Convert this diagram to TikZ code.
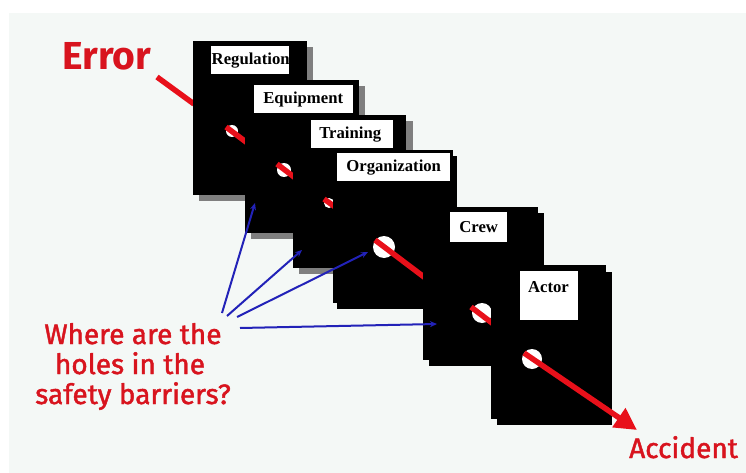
\documentclass[tikz,border=0pt]{standalone}
\usepackage{fontspec}
\usetikzlibrary{arrows.meta}
\newfontfamily\labfont{Liberation Serif}
\newfontfamily\handfont{Fira Sans}
\newfontfamily\handmed{Fira Sans}[FakeBold=1.6]
\definecolor{bgpanel}{HTML}{F4F8F6}
\definecolor{errred}{HTML}{D8141E}
\definecolor{linered}{HTML}{E8101A}
\definecolor{qblue}{HTML}{2222B8}
\definecolor{shadowgray}{HTML}{7F7F7F}
\tikzset{
  panel/.style={fill=black, draw=none},
  labelbox/.style={fill=white, draw=none, inner sep=0pt},
  labeltext/.style={font=\labfont\bfseries\fontsize{16.7}{18}\selectfont, inner sep=0pt},
  hole/.style={circle, fill=white, draw=none, inner sep=0pt},
  redline/.style={draw=linered, line width=5.5pt, line cap=butt},
  blueline/.style={draw=qblue, line width=2pt, -{Stealth[length=7pt,width=6pt]}},
  handtext/.style={font=\handmed\fontsize{28}{30}\selectfont, text=errred, inner sep=0pt}
}
\begin{document}
\begin{tikzpicture}[x=1pt,y=-1pt]
\useasboundingbox (0,0) rectangle (746,473);
\fill[white] (0,0) rectangle (746,473);
\fill[bgpanel] (9,13) rectangle (746,473);

% Error label and incoming red line
\node[handtext, font=\handfont\bfseries\fontsize{39}{40}\selectfont, anchor=base west] (err) at (62,70) {Error};
\coordinate (rs) at (157,77);
\coordinate (re) at (194,104);
\draw[redline] (rs) -- (re);

% Panel 1: Regulations
\fill[shadowgray] (199,47) rectangle (313,201);
\path[panel] (193,41) rectangle (307,195);
\node[labelbox, minimum width=78pt, minimum height=28pt, anchor=north west] (l1) at (211,46) {};
\begin{scope}
\clip (l1.south west) rectangle (l1.north east);
\node[labeltext, anchor=west] (t1) at ([xshift=0.5pt]l1.west) {Regulations};
\end{scope}
\node[hole, minimum size=12pt] (h1) at (232,131) {};
\draw[redline] (226,127) -- (250,145);

% Panel 2: Equipment
\fill[shadowgray] (251,86) rectangle (365,239);
\path[panel] (245,80) rectangle (359,233);
\node[labelbox, minimum width=99pt, minimum height=28pt, anchor=north west] (l2) at (254,85) {};
\node[labeltext] (t2) at ([xshift=-0.5pt]l2.center) {Equipment};
\node[hole, minimum size=14pt] (h2) at (284,170) {};
\draw[redline] (277,164) -- (298,180);

% Panel 3: Training
\fill[shadowgray] (299,121) rectangle (413,274);
\path[panel] (293,115) rectangle (406,268);
\node[labelbox, minimum width=82pt, minimum height=28pt, anchor=north west] (l3) at (311,120) {};
\node[labeltext] (t3) at ([xshift=-2pt]l3.center) {Training};
\node[hole, minimum size=10pt] (h3) at (329,203) {};
\draw[redline] (324,199) -- (338,209);

% Panel 4: Organization
\fill[black] (337,156) rectangle (457,309);
\path[panel] (333,150) rectangle (453,303);
\node[labelbox, minimum width=113pt, minimum height=28pt, anchor=north west] (l4) at (337,153) {};
\node[labeltext] (t4) at (l4.center) {Organization};
\node[hole, minimum size=22pt] (h4) at (384,247) {};
\draw[redline] (375,240) -- (428,280);

% Panel 5: Crew
\fill[black] (429,213) rectangle (544,366);
\path[panel] (423,207) rectangle (538,360);
\node[labelbox, minimum width=57pt, minimum height=30pt, anchor=north west] (l5) at (450,212) {};
\node[labeltext] (t5) at (l5.center) {Crew};
\node[hole, minimum size=20pt] (h5) at (482,313) {};
\draw[redline] (471,307) -- (496,326);

% Panel 6: Actor
\fill[black] (497,272) rectangle (612,425);
\path[panel] (491,265) rectangle (606,419);
\node[labelbox, minimum width=58pt, minimum height=49pt, anchor=north west] (l6) at (520,271) {};
\node[labeltext, anchor=base] (t6) at (548.5,292) {Actor};
\node[hole, minimum size=20pt] (h6) at (532,359) {};
\coordinate (acc) at (637,430);
\draw[redline, -{Triangle[length=22pt,width=22pt]}] (524,353) -- (acc);

% Accident label
\node[handtext, anchor=base west] (acctext) at (629,458) {Accident};

% Question text
\node[handtext, anchor=base] (q1) at (133,344) {Where are the};
\node[handtext, anchor=base] (q2) at (130,374) {holes in the};
\node[handtext, anchor=base] (q3) at (133,404) {safety barriers?};

% Blue pointers
\coordinate (b1s) at (222,313);
\coordinate (b2s) at (227,316);
\coordinate (b3s) at (237,317);
\coordinate (b4s) at (240,328);
\coordinate (b1e) at (255,203);
\coordinate (b2e) at (302,250);
\coordinate (b3e) at (368,252);
\coordinate (b4e) at (437,324);
\draw[blueline] (b1s) -- (b1e);
\draw[blueline] (b2s) -- (b2e);
\draw[blueline] (b3s) -- (b3e);
\draw[blueline] (b4s) -- (b4e);
\end{tikzpicture}
\end{document}
